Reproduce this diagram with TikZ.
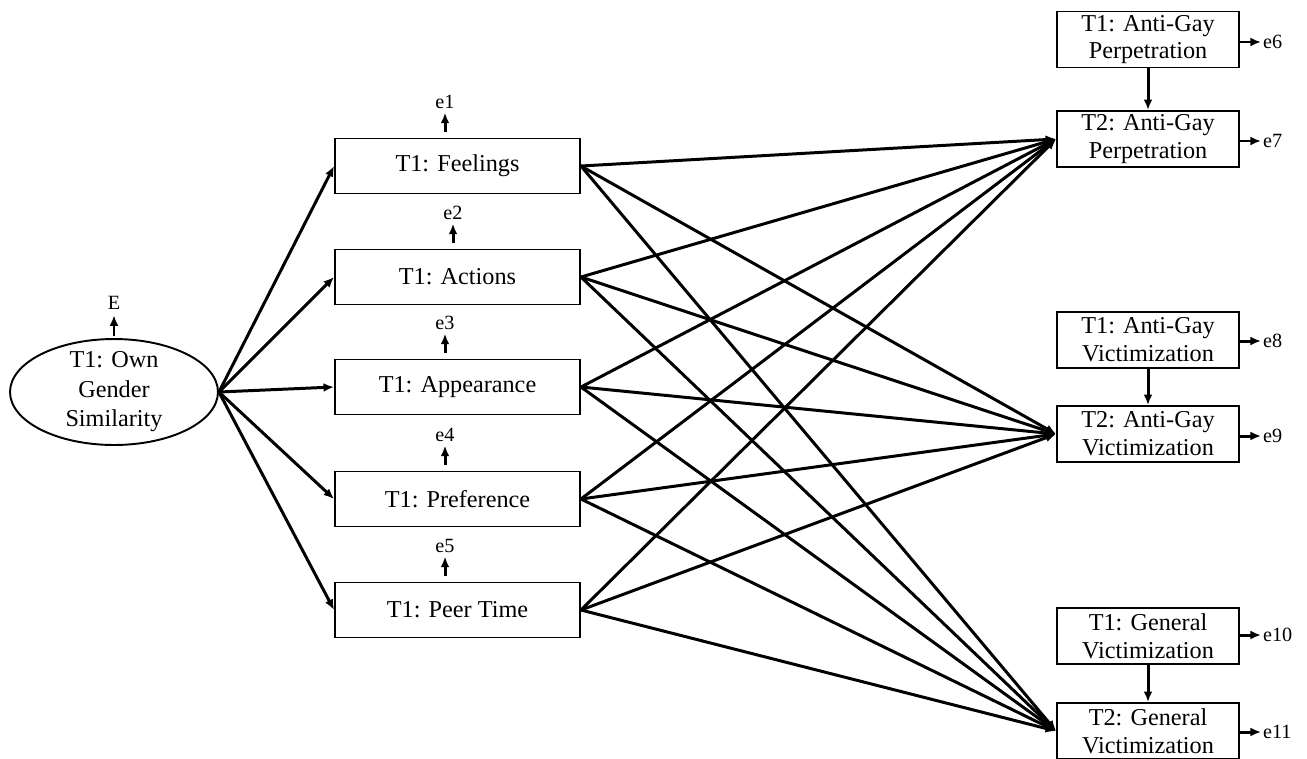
\documentclass[tikz,border=0pt]{standalone}
\usepackage{fontspec}
\setmainfont{Liberation Serif}
\usetikzlibrary{arrows.meta, shapes.geometric}

\begin{document}
\begin{tikzpicture}[
    x=0.02cm, y=-0.02cm,
    box/.style={draw, line width=1.1pt, minimum width=4.9cm, minimum height=1.1cm, font=\fontsize{13.8}{16.5}\selectfont, inner sep=1pt},
    outbox/.style={draw, line width=1.1pt, minimum width=3.64cm, minimum height=1.12cm, align=center, font=\fontsize{13.8}{15.8}\selectfont, inner sep=1pt},
    latent/.style={draw, ellipse, line width=1.1pt, minimum width=4.16cm, minimum height=2.12cm, align=center, inner xsep=0pt, inner ysep=-3pt, font=\fontsize{13.8}{16.8}\selectfont},
    arrow/.style={-{Latex[length=6pt, width=5pt]}, line width=1.7pt},
    err/.style={font=\fontsize{11.5}{13}\selectfont, inner sep=1pt}
]
    \useasboundingbox (0,0) rectangle (1307,758);

    % exogenous latent
    \node[latent] (own) at (114,392) {T1: Own\\Gender\\Similarity};
    \node[err] (E) at (114,303) {E};
    \draw[arrow, shorten <=1pt, shorten >=2pt] (own.north) -- (E);

    % mediators
    \foreach \name/\txt/\yy/\ex [count=\i] in {feel/Feelings/166/445, act/Actions/277/453, app/Appearance/387/445, pref/Preference/499/445, peer/Peer Time/610/445} {
        \node[box] (\name) at (457.5,\yy) {T1: \txt};
        \node[err] (e\i) at (\ex,\yy-64) {e\i};
        \draw[arrow, shorten <=3pt, shorten >=1pt] (\name.north -| e\i) -- (e\i);
        \draw[arrow] (own.east) -- (\name.west);
    }

    % outcomes
    \node[outbox] (perp1) at (1148,39.5) {T1: Anti-Gay\\Perpetration};
    \node[outbox] (perp2) at (1148,139) {T2: Anti-Gay\\Perpetration};
    \node[outbox] (vict1) at (1148,340) {T1: Anti-Gay\\Victimization};
    \node[outbox] (vict2) at (1148,434) {T2: Anti-Gay\\Victimization};
    \node[outbox] (gen1) at (1148,636) {T1: General\\Victimization};
    \node[outbox] (gen2) at (1148,731) {T2: General\\Victimization};

    \foreach \o/\ey/\k in {perp1/42/6, perp2/141/7, vict1/341/8, vict2/436/9, gen1/635/10, gen2/732/11} {
        \node[err, anchor=west] (e\k) at (1261,\ey) {e\k};
        \draw[arrow] (\o.east |- e\k) -- (e\k.west);
    }

    \draw[arrow] (perp1) -- (perp2);
    \draw[arrow] (vict1) -- (vict2);
    \draw[arrow] (gen1) -- (gen2);

    % paths to T2 outcomes
    \foreach \m in {feel, act, app, pref, peer}
        \foreach \o in {perp2, vict2, gen2}
            \draw[arrow] (\m.east) -- (\o.west);
\end{tikzpicture}
\end{document}
